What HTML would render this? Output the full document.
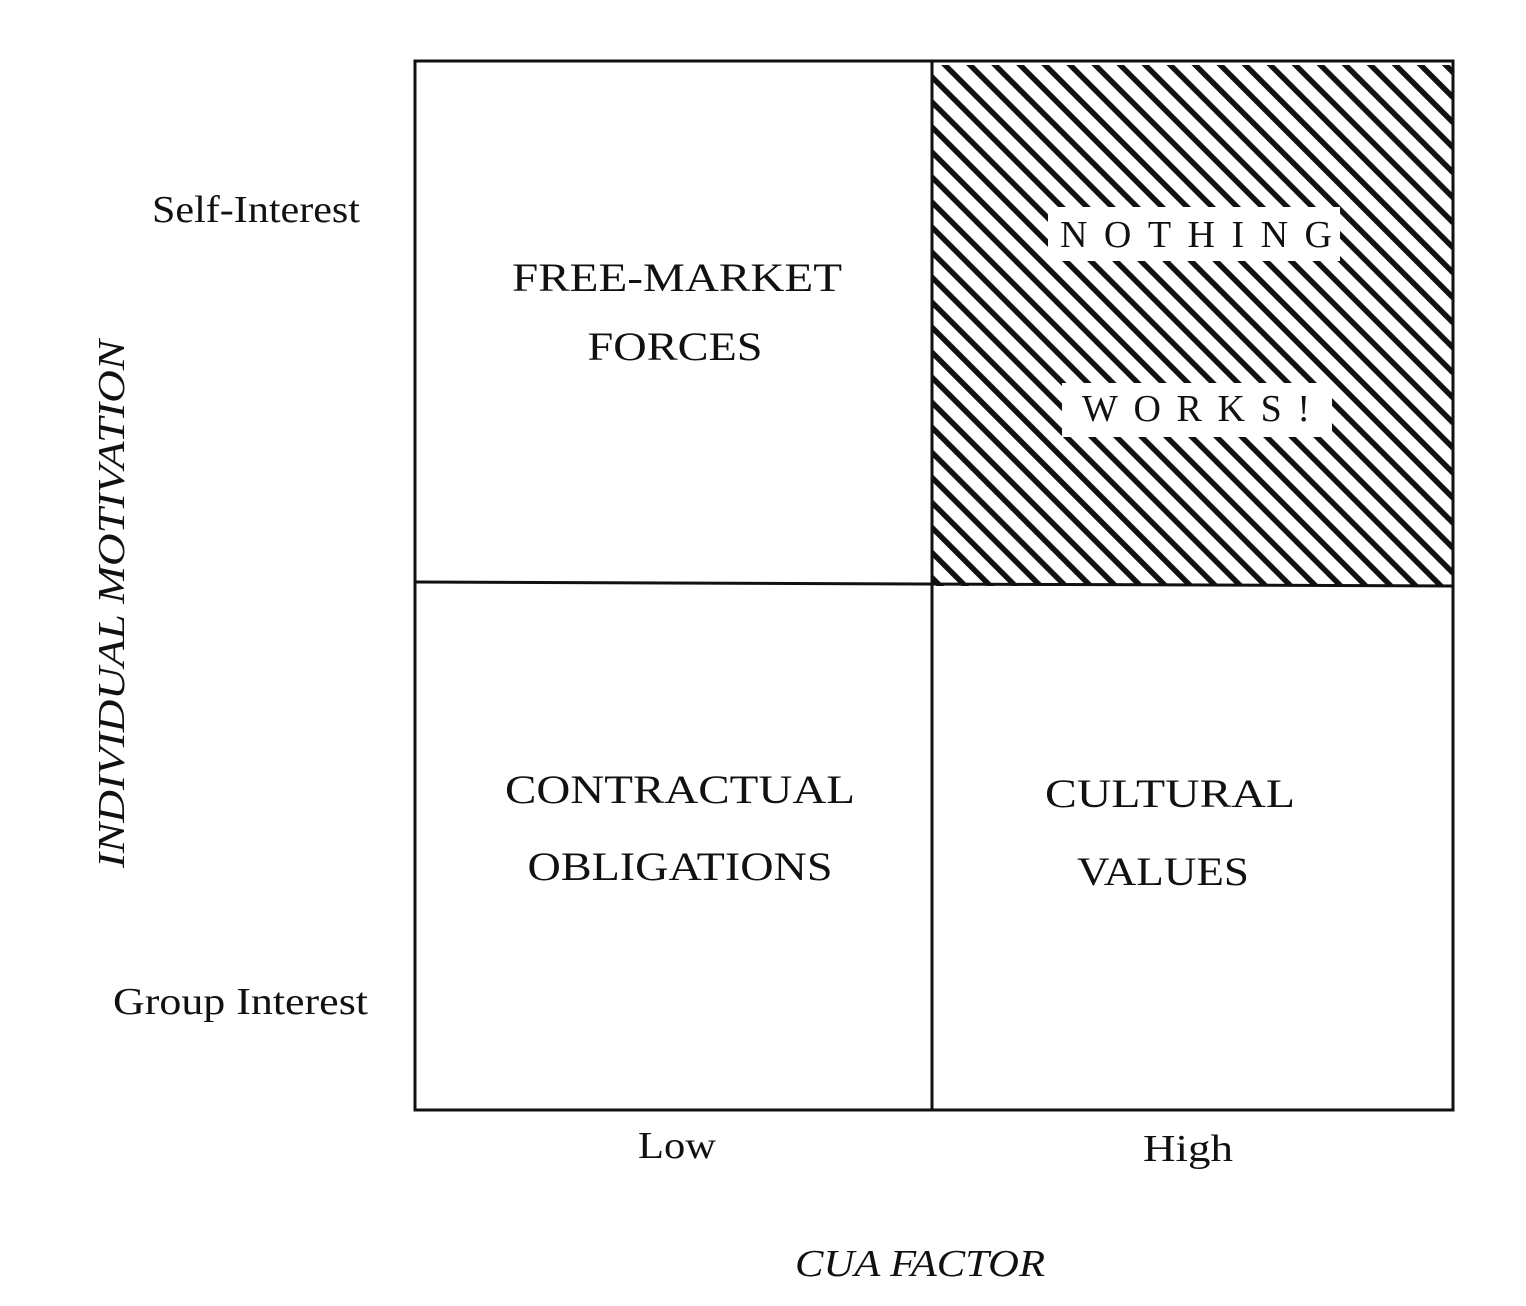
<!DOCTYPE html>
<html><head><style>body{margin:0;background:#fff}svg{display:block}</style></head><body>
<svg width="1526" height="1306" viewBox="0 0 1526 1306" xmlns="http://www.w3.org/2000/svg" font-family="Liberation Serif, serif" fill="#111">
<defs>
<pattern id="h" patternUnits="userSpaceOnUse" width="17.7" height="17.7" patternTransform="rotate(-45)">
<rect x="0" y="0" width="5.5" height="17.7" fill="#111"/>
</pattern>
</defs>
<rect x="932" y="65" width="522" height="521" fill="url(#h)"/>
<rect x="1048" y="207" width="292" height="54" fill="#fff"/>
<rect x="1062" y="383" width="270" height="54" fill="#fff"/>
<g stroke="#111" stroke-width="3" fill="none">
<rect x="415" y="61" width="1038" height="1049"/>
<line x1="932" y1="61" x2="932" y2="1110"/>
<line x1="415" y1="582" x2="1453" y2="586"/>
</g>
<g font-size="40" text-anchor="middle">
<text x="677" y="291" textLength="330" lengthAdjust="spacingAndGlyphs">FREE-MARKET</text>
<text x="675" y="360" textLength="175" lengthAdjust="spacingAndGlyphs">FORCES</text>
<text x="680" y="803" textLength="350" lengthAdjust="spacingAndGlyphs">CONTRACTUAL</text>
<text x="680" y="880" textLength="305" lengthAdjust="spacingAndGlyphs">OBLIGATIONS</text>
<text x="1170" y="807" textLength="250" lengthAdjust="spacingAndGlyphs">CULTURAL</text>
<text x="1163" y="885" textLength="172" lengthAdjust="spacingAndGlyphs">VALUES</text>
<text x="1196" y="247" font-size="38" textLength="272" lengthAdjust="spacing">NOTHING</text>
<text x="1196" y="421" font-size="38" textLength="228" lengthAdjust="spacing">WORKS!</text>
</g>
<g font-size="38">
<text x="152" y="222" textLength="208" lengthAdjust="spacingAndGlyphs">Self-Interest</text>
<text x="113" y="1014" textLength="255" lengthAdjust="spacingAndGlyphs">Group Interest</text>
<text x="677" y="1158" text-anchor="middle" textLength="78" lengthAdjust="spacingAndGlyphs">Low</text>
<text x="1188" y="1161" text-anchor="middle" textLength="90" lengthAdjust="spacingAndGlyphs">High</text>
<text x="920" y="1276" text-anchor="middle" font-style="italic" textLength="250" lengthAdjust="spacingAndGlyphs">CUA FACTOR</text>
<text transform="translate(124,604) rotate(-90)" text-anchor="middle" font-style="italic" textLength="528" lengthAdjust="spacingAndGlyphs">INDIVIDUAL MOTIVATION</text>
</g>
</svg>
</body></html>
